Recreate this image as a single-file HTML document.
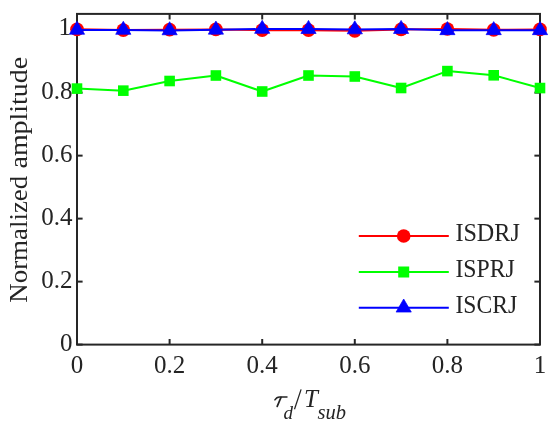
<!DOCTYPE html>
<html><head><meta charset="utf-8"><style>
html,body{margin:0;padding:0;background:#fff;}
body{width:550px;height:427px;overflow:hidden;}
svg{display:block;font-family:"Liberation Serif", serif;will-change:transform;}
text{fill:#242424;}
</style></head><body>
<svg width="550" height="427" viewBox="0 0 550 427">
<rect width="550" height="427" fill="#fff"/>
<rect x="77.00" y="13.90" width="463.00" height="330.70" fill="none" stroke="#262626" stroke-width="2"/>
<line x1="77.0" y1="344.60" x2="82.6" y2="344.60" stroke="#262626" stroke-width="2"/>
<line x1="540.0" y1="344.60" x2="534.4" y2="344.60" stroke="#262626" stroke-width="2"/>
<line x1="77.0" y1="281.61" x2="82.6" y2="281.61" stroke="#262626" stroke-width="2"/>
<line x1="540.0" y1="281.61" x2="534.4" y2="281.61" stroke="#262626" stroke-width="2"/>
<line x1="77.0" y1="218.62" x2="82.6" y2="218.62" stroke="#262626" stroke-width="2"/>
<line x1="540.0" y1="218.62" x2="534.4" y2="218.62" stroke="#262626" stroke-width="2"/>
<line x1="77.0" y1="155.63" x2="82.6" y2="155.63" stroke="#262626" stroke-width="2"/>
<line x1="540.0" y1="155.63" x2="534.4" y2="155.63" stroke="#262626" stroke-width="2"/>
<line x1="77.0" y1="92.64" x2="82.6" y2="92.64" stroke="#262626" stroke-width="2"/>
<line x1="540.0" y1="92.64" x2="534.4" y2="92.64" stroke="#262626" stroke-width="2"/>
<line x1="77.0" y1="29.65" x2="82.6" y2="29.65" stroke="#262626" stroke-width="2"/>
<line x1="540.0" y1="29.65" x2="534.4" y2="29.65" stroke="#262626" stroke-width="2"/>
<line x1="77.00" y1="344.6" x2="77.00" y2="339.0" stroke="#262626" stroke-width="2"/>
<line x1="77.00" y1="13.9" x2="77.00" y2="19.5" stroke="#262626" stroke-width="2"/>
<line x1="169.60" y1="344.6" x2="169.60" y2="339.0" stroke="#262626" stroke-width="2"/>
<line x1="169.60" y1="13.9" x2="169.60" y2="19.5" stroke="#262626" stroke-width="2"/>
<line x1="262.20" y1="344.6" x2="262.20" y2="339.0" stroke="#262626" stroke-width="2"/>
<line x1="262.20" y1="13.9" x2="262.20" y2="19.5" stroke="#262626" stroke-width="2"/>
<line x1="354.80" y1="344.6" x2="354.80" y2="339.0" stroke="#262626" stroke-width="2"/>
<line x1="354.80" y1="13.9" x2="354.80" y2="19.5" stroke="#262626" stroke-width="2"/>
<line x1="447.40" y1="344.6" x2="447.40" y2="339.0" stroke="#262626" stroke-width="2"/>
<line x1="447.40" y1="13.9" x2="447.40" y2="19.5" stroke="#262626" stroke-width="2"/>
<line x1="540.00" y1="344.6" x2="540.00" y2="339.0" stroke="#262626" stroke-width="2"/>
<line x1="540.00" y1="13.9" x2="540.00" y2="19.5" stroke="#262626" stroke-width="2"/>
<polyline points="77.00,88.60 123.30,90.65 169.60,81.00 215.90,75.50 262.20,91.50 308.50,75.50 354.80,76.50 401.10,88.00 447.40,71.10 493.70,75.30 540.00,88.05" fill="none" stroke="#00ff00" stroke-width="2" stroke-linejoin="round"/>
<rect x="71.70" y="83.30" width="10.6" height="10.6" fill="#00ff00"/>
<rect x="118.00" y="85.35" width="10.6" height="10.6" fill="#00ff00"/>
<rect x="164.30" y="75.70" width="10.6" height="10.6" fill="#00ff00"/>
<rect x="210.60" y="70.20" width="10.6" height="10.6" fill="#00ff00"/>
<rect x="256.90" y="86.20" width="10.6" height="10.6" fill="#00ff00"/>
<rect x="303.20" y="70.20" width="10.6" height="10.6" fill="#00ff00"/>
<rect x="349.50" y="71.20" width="10.6" height="10.6" fill="#00ff00"/>
<rect x="395.80" y="82.70" width="10.6" height="10.6" fill="#00ff00"/>
<rect x="442.10" y="65.80" width="10.6" height="10.6" fill="#00ff00"/>
<rect x="488.40" y="70.00" width="10.6" height="10.6" fill="#00ff00"/>
<rect x="534.70" y="82.75" width="10.6" height="10.6" fill="#00ff00"/>
<polyline points="77.00,29.30 123.30,30.05 169.60,29.70 215.90,29.40 262.20,30.20 308.50,30.20 354.80,30.80 401.10,29.40 447.40,29.00 493.70,29.80 540.00,29.40" fill="none" stroke="#ff0000" stroke-width="2" stroke-linejoin="round"/>
<circle cx="77.00" cy="29.30" r="6.85" fill="#ff0000"/>
<circle cx="123.30" cy="30.05" r="6.85" fill="#ff0000"/>
<circle cx="169.60" cy="29.70" r="6.85" fill="#ff0000"/>
<circle cx="215.90" cy="29.40" r="6.85" fill="#ff0000"/>
<circle cx="262.20" cy="30.20" r="6.85" fill="#ff0000"/>
<circle cx="308.50" cy="30.20" r="6.85" fill="#ff0000"/>
<circle cx="354.80" cy="30.80" r="6.85" fill="#ff0000"/>
<circle cx="401.10" cy="29.40" r="6.85" fill="#ff0000"/>
<circle cx="447.40" cy="29.00" r="6.85" fill="#ff0000"/>
<circle cx="493.70" cy="29.80" r="6.85" fill="#ff0000"/>
<circle cx="540.00" cy="29.40" r="6.85" fill="#ff0000"/>
<polyline points="77.00,29.90 123.30,29.95 169.60,30.40 215.90,29.80 262.20,29.00 308.50,29.10 354.80,29.50 401.10,29.10 447.40,30.30 493.70,30.30 540.00,30.30" fill="none" stroke="#0000ff" stroke-width="2" stroke-linejoin="round"/>
<polygon points="77.00,21.20 84.61,34.25 69.39,34.25" fill="#0000ff" stroke="#0000ff" stroke-width="0.7" stroke-linejoin="miter"/>
<polygon points="123.30,21.25 130.91,34.30 115.70,34.30" fill="#0000ff" stroke="#0000ff" stroke-width="0.7" stroke-linejoin="miter"/>
<polygon points="169.60,21.70 177.21,34.75 162.00,34.75" fill="#0000ff" stroke="#0000ff" stroke-width="0.7" stroke-linejoin="miter"/>
<polygon points="215.90,21.10 223.50,34.15 208.30,34.15" fill="#0000ff" stroke="#0000ff" stroke-width="0.7" stroke-linejoin="miter"/>
<polygon points="262.20,20.30 269.81,33.35 254.60,33.35" fill="#0000ff" stroke="#0000ff" stroke-width="0.7" stroke-linejoin="miter"/>
<polygon points="308.50,20.40 316.11,33.45 300.89,33.45" fill="#0000ff" stroke="#0000ff" stroke-width="0.7" stroke-linejoin="miter"/>
<polygon points="354.80,20.80 362.41,33.85 347.19,33.85" fill="#0000ff" stroke="#0000ff" stroke-width="0.7" stroke-linejoin="miter"/>
<polygon points="401.10,20.40 408.70,33.45 393.49,33.45" fill="#0000ff" stroke="#0000ff" stroke-width="0.7" stroke-linejoin="miter"/>
<polygon points="447.40,21.60 455.01,34.65 439.80,34.65" fill="#0000ff" stroke="#0000ff" stroke-width="0.7" stroke-linejoin="miter"/>
<polygon points="493.70,21.60 501.31,34.65 486.09,34.65" fill="#0000ff" stroke="#0000ff" stroke-width="0.7" stroke-linejoin="miter"/>
<polygon points="540.00,21.60 547.61,34.65 532.39,34.65" fill="#0000ff" stroke="#0000ff" stroke-width="0.7" stroke-linejoin="miter"/>
<text x="72.4" y="350.60" text-anchor="end" font-size="25">0</text>
<text x="72.4" y="287.61" text-anchor="end" font-size="25">0.2</text>
<text x="72.4" y="224.62" text-anchor="end" font-size="25">0.4</text>
<text x="72.4" y="161.63" text-anchor="end" font-size="25">0.6</text>
<text x="72.4" y="98.64" text-anchor="end" font-size="25">0.8</text>
<text x="71.0" y="34.95" text-anchor="end" font-size="25">1</text>
<text x="77.00" y="372.5" text-anchor="middle" font-size="25">0</text>
<text x="169.60" y="372.5" text-anchor="middle" font-size="25">0.2</text>
<text x="262.20" y="372.5" text-anchor="middle" font-size="25">0.4</text>
<text x="354.80" y="372.5" text-anchor="middle" font-size="25">0.6</text>
<text x="447.40" y="372.5" text-anchor="middle" font-size="25">0.8</text>
<text x="540.00" y="372.5" text-anchor="middle" font-size="25">1</text>
<text transform="translate(26.7,302.7) rotate(-90)" font-size="25" textLength="126.9" lengthAdjust="spacingAndGlyphs">Normalized</text>
<text transform="translate(26.7,168.5) rotate(-90)" font-size="25" textLength="111.7" lengthAdjust="spacingAndGlyphs">amplitude</text>
<path d="M274.9,399.9 Q276.6,396.9 279.6,396.9 L287,396.9" fill="none" stroke="#242424" stroke-width="1.45" stroke-linecap="round"/>
<path d="M281,397.3 L277.2,406.4" fill="none" stroke="#242424" stroke-width="1.7" stroke-linecap="round"/>
<text x="283.6" y="418.5" font-size="19" font-style="italic">d</text>
<path d="M301.1,389.4 L294.5,409.2" fill="none" stroke="#242424" stroke-width="1.25"/>
<text x="304" y="406.7" font-size="25" font-style="italic">T</text>
<text x="317.6" y="418.5" font-size="20" font-style="italic" textLength="28.5" lengthAdjust="spacingAndGlyphs">sub</text>
<line x1="358.8" y1="236" x2="448.8" y2="236" stroke="#ff0000" stroke-width="2"/>
<text x="455.4" y="241.3" font-size="25" textLength="64.4" lengthAdjust="spacingAndGlyphs">ISDRJ</text>
<line x1="358.8" y1="272" x2="448.8" y2="272" stroke="#00ff00" stroke-width="2"/>
<text x="455.4" y="277.0" font-size="25" textLength="59.3" lengthAdjust="spacingAndGlyphs">ISPRJ</text>
<line x1="358.8" y1="307.8" x2="448.8" y2="307.8" stroke="#0000ff" stroke-width="2"/>
<text x="455.4" y="313.1" font-size="25" textLength="61.7" lengthAdjust="spacingAndGlyphs">ISCRJ</text>
<circle cx="403.70" cy="236.00" r="6.85" fill="#ff0000"/>
<rect x="398.20" y="266.50" width="11" height="11" fill="#00ff00"/>
<polygon points="403.70,299.00 411.31,312.05 396.09,312.05" fill="#0000ff" stroke="#0000ff" stroke-width="0.7" stroke-linejoin="miter"/>
</svg>
</body></html>
